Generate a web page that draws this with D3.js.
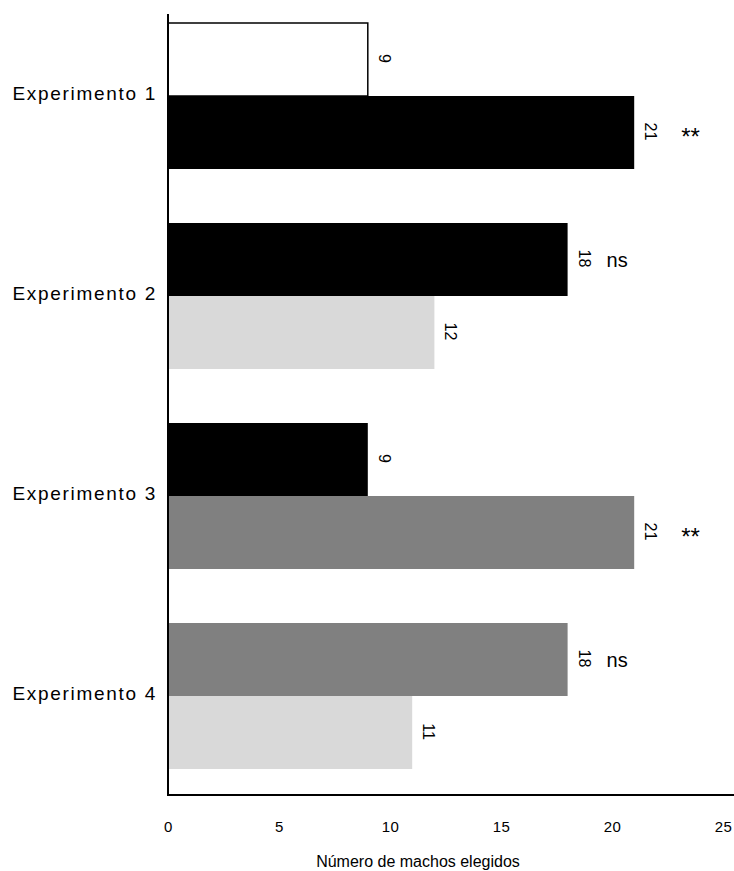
<!DOCTYPE html>
<html>
<head>
<meta charset="utf-8">
<script src="https://cdn.jsdelivr.net/npm/d3@7"></script>
<style>
  body { margin: 0; background: #fff; }
  text { font-family: "Liberation Sans", Arial, sans-serif; fill: #000; }
</style>
</head>
<body>
<div id="chart"></div>
<script>
// data
var categories = ["Experimento 1", "Experimento 2", "Experimento 3", "Experimento 4"];
var upperValues = [9, 18, 9, 18];
var lowerValues = [21, 12, 21, 11];
// treatment shown by each bar (A = blanco, B = negro, C = gris oscuro, D = gris claro)
var upperTreatment = ["A", "B", "B", "C"];
var lowerTreatment = ["B", "D", "C", "D"];
var significance = ["**", "ns", "**", "ns"];
var xTicks = [0, 5, 10, 15, 20, 25];

var svgWidth = 734;
var svgHeight = 871;

var svg = d3.select("#chart")
  .append("svg")
  .attr("width", svgWidth)
  .attr("height", svgHeight);

var color = d3.scaleOrdinal()
  .domain(["A", "B", "C", "D"])
  .range(["#ffffff", "#000000", "#808080", "#d9d9d9"]);

var x = d3.scaleLinear()
  .domain([0, 25])
  .range([168, 723]);

var y0 = d3.scaleBand()
  .domain(categories)
  .range([-4, 796])
  .paddingInner(0.27)
  .paddingOuter(0.135);

var y1 = d3.scaleBand()
  .domain([0, 1])
  .range([0, y0.bandwidth()]);

var bars = [];
categories.forEach(function(c, i) {
  bars.push({ cat: c, slot: 0, value: upperValues[i], t: upperTreatment[i] });
  bars.push({ cat: c, slot: 1, value: lowerValues[i], t: lowerTreatment[i] });
});

svg.selectAll("rect.bar")
  .data(bars)
  .enter()
  .append("rect")
  .attr("class", "bar")
  .attr("x", x(0))
  .attr("y", d => y0(d.cat) + y1(d.slot))
  .attr("width", d => x(d.value) - x(0))
  .attr("height", y1.bandwidth())
  .attr("fill", d => color(d.t))
  .attr("stroke", d => d.t === "A" ? "#000" : "none")
  .attr("stroke-width", 1.5);

// value labels, rotated
svg.selectAll("text.val")
  .data(bars)
  .enter()
  .append("text")
  .attr("class", "val")
  .attr("transform", d => `translate(${x(d.value) + 11}, ${y0(d.cat) + y1(d.slot) + y1.bandwidth() / 2 - 1}) rotate(90)`)
  .attr("text-anchor", "middle")
  .style("font-size", "16px")
  .text(d => d.value);

// significance next to the longer bar
svg.selectAll("text.sig")
  .data(categories)
  .enter()
  .append("text")
  .attr("class", "sig")
  .attr("x", (c, i) => x(Math.max(upperValues[i], lowerValues[i])) + (significance[i] === "**" ? 47 : 39))
  .attr("y", (c, i) => y0(c) + y1(upperValues[i] >= lowerValues[i] ? 0 : 1) + y1.bandwidth() / 2 + (significance[i] === "**" ? 12 : 7))
  .style("font-size", (c, i) => significance[i] === "**" ? "24px" : "20px")
  .text((c, i) => significance[i]);

// category labels
svg.selectAll("text.cat")
  .data(categories)
  .enter()
  .append("text")
  .attr("class", "cat")
  .attr("x", 157)
  .attr("y", c => y0(c) + y0.bandwidth() / 2 + 4)
  .attr("text-anchor", "end")
  .style("font-size", "19px")
  .style("letter-spacing", "1.7px")
  .text(c => c);

// axes
var bottomAxis = d3.axisBottom(x)
  .tickValues(xTicks)
  .tickSize(0)
  .tickPadding(26);

var xAxis = svg.append("g")
  .attr("transform", "translate(0, 795)")
  .call(bottomAxis);
xAxis.select(".domain").remove();
xAxis.selectAll("text")
  .style("font-family", "'Liberation Sans', Arial, sans-serif")
  .style("font-size", "15px")
  .style("letter-spacing", "0.5px");

svg.append("line")
  .attr("x1", x(0) - 1)
  .attr("x2", svgWidth)
  .attr("y1", 795)
  .attr("y2", 795)
  .attr("stroke", "#000")
  .attr("stroke-width", 2);

svg.append("line")
  .attr("x1", x(0))
  .attr("x2", x(0))
  .attr("y1", 14)
  .attr("y2", 796)
  .attr("stroke", "#000")
  .attr("stroke-width", 2);

svg.append("text")
  .attr("x", 418)
  .attr("y", 867)
  .attr("text-anchor", "middle")
  .style("font-size", "16px")
  .text("Número de machos elegidos");
</script>
</body>
</html>
